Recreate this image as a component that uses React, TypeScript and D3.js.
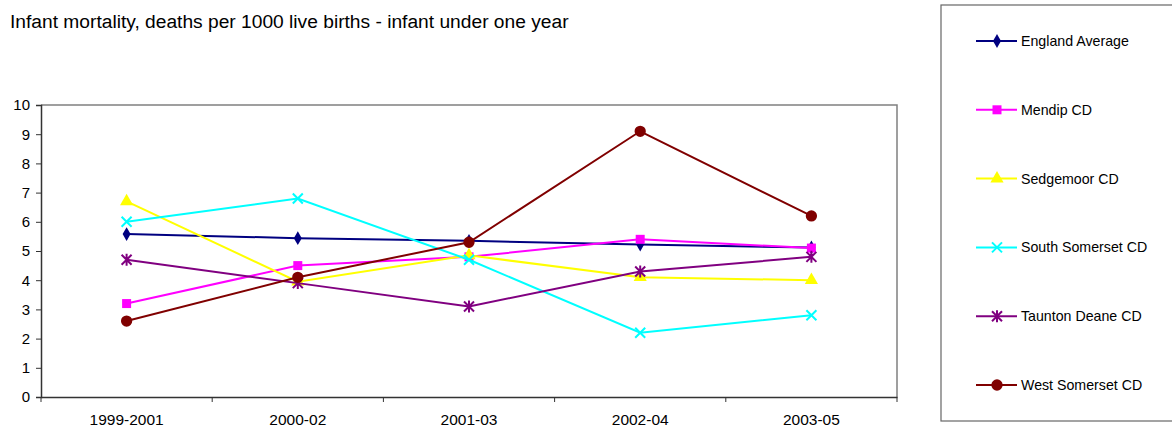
import React, { useEffect, useRef } from 'react';
import * as d3 from 'd3';

const periods = ['1999-2001', '2000-02', '2001-03', '2002-04', '2003-05'];
const yTicks = [0, 1, 2, 3, 4, 5, 6, 7, 8, 9, 10];

const seriesNames = [
  'England Average',
  'Mendip CD',
  'Sedgemoor CD',
  'South Somerset CD',
  'Taunton Deane CD',
  'West Somerset CD',
];
const seriesColors = ['#000080', '#FF00FF', '#FFFF00', '#00FFFF', '#800080', '#800000'];
const seriesMarkers = ['diamond', 'square', 'triangle', 'x', 'star', 'circle'];

const englandValues = [5.58, 5.44, 5.35, 5.22, 5.12];
const mendipValues = [3.2, 4.5, 4.8, 5.4, 5.1];
const sedgemoorValues = [6.7, 3.95, 4.85, 4.1, 4.0];
const southSomersetValues = [6.0, 6.8, 4.7, 2.2, 2.8];
const tauntonValues = [4.7, 3.9, 3.1, 4.3, 4.8];
const westSomersetValues = [2.6, 4.1, 5.3, 9.1, 6.2];

const seriesValues = [
  englandValues,
  mendipValues,
  sedgemoorValues,
  southSomersetValues,
  tauntonValues,
  westSomersetValues,
];

const W = 1172;
const H = 428;
const FONT = "'Liberation Sans', Arial, sans-serif";

function drawMarker(
  g: d3.Selection<SVGGElement, unknown, null, undefined>,
  kind: string,
  cx: number,
  cy: number,
  color: string
) {
  if (kind === 'x' || kind === 'star') {
    const s = 5;
    let d = `M${cx - s},${cy - s}L${cx + s},${cy + s}M${cx - s},${cy + s}L${cx + s},${cy - s}`;
    if (kind === 'star') d += `M${cx},${cy - s - 1}L${cx},${cy + s + 1}`;
    g.append('path').attr('d', d).attr('stroke', color).attr('stroke-width', 2).attr('fill', 'none');
    return;
  }
  const types: Record<string, [d3.SymbolType, number]> = {
    diamond: [d3.symbolDiamond, 55],
    square: [d3.symbolSquare, 81],
    triangle: [d3.symbolTriangle, 75],
    circle: [d3.symbolCircle, 100],
  };
  const [type, size] = types[kind];
  g.append('path')
    .attr('d', d3.symbol().type(type).size(size)() as string)
    .attr('transform', `translate(${cx},${cy})`)
    .attr('fill', color)
    .attr('stroke', 'none');
}

export default function App() {
  const svgRef = useRef<SVGSVGElement>(null);

  useEffect(() => {
    if (!svgRef.current) return;
    const svg = d3.select(svgRef.current);
    svg.selectAll('*').remove();

    const plot = { left: 41, right: 897, top: 105, bottom: 397 };

    svg.append('rect').attr('width', W).attr('height', H).attr('fill', '#ffffff');

    // Title
    svg.append('text')
      .attr('x', 10)
      .attr('y', 28)
      .attr('font-family', FONT)
      .attr('font-size', '19.2px')
      .attr('fill', '#000')
      .text('Infant mortality, deaths per 1000 live births - infant under one year');

    const x = d3.scaleBand().domain(periods).range([plot.left, plot.right]).padding(0);
    const y = d3.scaleLinear().domain([0, 10]).range([plot.bottom, plot.top]);
    const cx = (p: string) => (x(p) || 0) + x.bandwidth() / 2;

    // plot frame (top / right in gray)
    svg.append('path')
      .attr('d', `M${plot.left},${plot.top}H${plot.right}V${plot.bottom}`)
      .attr('fill', 'none')
      .attr('stroke', '#808080')
      .attr('stroke-width', 1.5);

    // Y axis
    const yAxis = svg.append('g')
      .attr('transform', `translate(${plot.left},0)`)
      .call(d3.axisLeft(y).tickValues(yTicks).tickSize(5).tickPadding(6).tickFormat(d3.format('d')));
    yAxis.select('.domain').attr('stroke', '#333').attr('stroke-width', 1.5);
    yAxis.selectAll('line').attr('stroke', '#333');
    yAxis.selectAll('text')
      .attr('font-family', FONT)
      .attr('font-size', '15px')
      .attr('fill', '#000');

    // X axis
    const xAxis = svg.append('g')
      .attr('transform', `translate(0,${plot.bottom})`)
      .call(d3.axisBottom(x).tickSize(0).tickPadding(17));
    xAxis.select('.domain').attr('stroke', '#333').attr('stroke-width', 1.5);
    xAxis.selectAll('text')
      .attr('font-family', FONT)
      .attr('font-size', '15.5px')
      .attr('fill', '#000');
    // tick marks at category boundaries
    const bounds = [...periods.map(p => x(p) || 0), plot.right];
    svg.append('g')
      .selectAll('line')
      .data(bounds)
      .enter()
      .append('line')
      .attr('x1', d => d)
      .attr('x2', d => d)
      .attr('y1', plot.bottom)
      .attr('y2', plot.bottom + 5)
      .attr('stroke', '#333');

    // Series
    const line = d3.line<number>()
      .x((_, i) => cx(periods[i]))
      .y(d => y(d));

    seriesValues.forEach((vals, si) => {
      const g = svg.append('g');
      g.append('path')
        .datum(vals)
        .attr('d', line)
        .attr('fill', 'none')
        .attr('stroke', seriesColors[si])
        .attr('stroke-width', 2);
      vals.forEach((v, i) => drawMarker(g, seriesMarkers[si], cx(periods[i]), y(v), seriesColors[si]));
    });

    // Legend
    const lg = svg.append('g');
    lg.append('rect')
      .attr('x', 941)
      .attr('y', 5)
      .attr('width', 260)
      .attr('height', 416)
      .attr('fill', '#fff')
      .attr('stroke', '#666')
      .attr('stroke-width', 1.2);
    seriesNames.forEach((name, si) => {
      const ly = 41 + si * 68.8;
      const g = lg.append('g');
      g.append('line')
        .attr('x1', 976)
        .attr('x2', 1017)
        .attr('y1', ly)
        .attr('y2', ly)
        .attr('stroke', seriesColors[si])
        .attr('stroke-width', 2);
      drawMarker(g, seriesMarkers[si], 997, ly, seriesColors[si]);
      g.append('text')
        .attr('x', 1021)
        .attr('y', ly + 5)
        .attr('font-family', FONT)
        .attr('font-size', '14.2px')
        .attr('fill', '#000')
        .text(name);
    });
  }, []);

  return (
    <svg
      ref={svgRef}
      width={W}
      height={H}
      viewBox={`0 0 ${W} ${H}`}
      style={{ position: 'absolute', left: 0, top: 0 }}
    />
  );
}
